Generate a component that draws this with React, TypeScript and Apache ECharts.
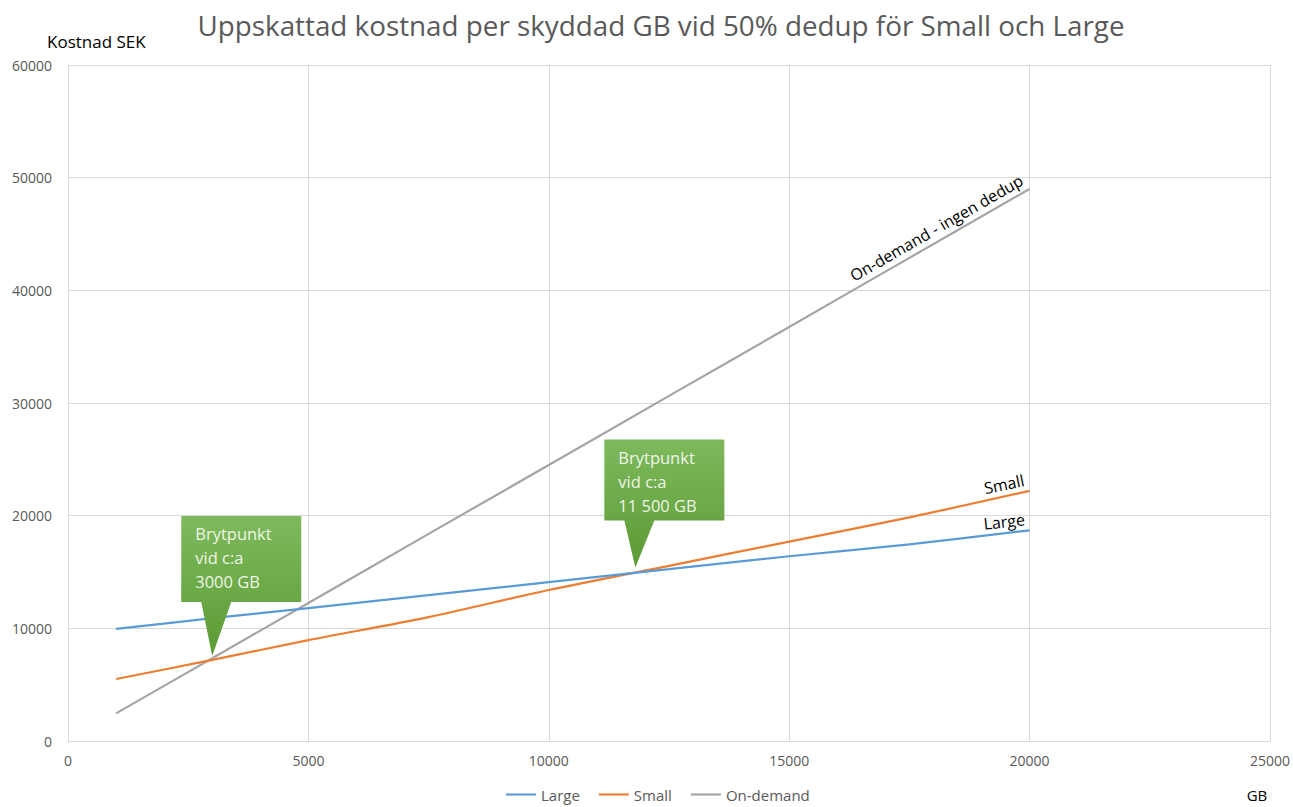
import React, { useEffect, useRef } from "react";
import * as echarts from "echarts";

const titleText = "Uppskattad kostnad per skyddad GB vid 50% dedup för Small och Large";
const yAxisTitle = "Kostnad SEK";
const xAxisTitle = "GB";
const seriesNames = ["Large", "Small", "On-demand"];
const gbValues = [1000, 3000, 5000, 7500, 10000, 12500, 15000, 17500, 20000];
const largeCost = [9950, 10900, 11800, 12950, 14100, 15250, 16400, 17450, 18700];
const smallCost = [5500, 7200, 8950, 11000, 13400, 15550, 17700, 19850, 22200];
const onDemandCost = [2450, 7350, 12250, 18380, 24500, 30630, 36750, 42880, 49000];
const lineLabels = ["Large", "Small", "On-demand - ingen dedup"];
const breakpoints = [
  { gb: 3000, cost: 7550, text: "Brytpunkt\nvid c:a\n3000 GB" },
  { gb: 11800, cost: 15400, text: "Brytpunkt\nvid c:a\n11 500 GB" },
];

const FONT = "'Open Sans', 'Noto Sans', sans-serif";
const colors = ["#5b9bd5", "#ed7d31", "#a5a5a5"];

export default function App() {
  const ref = useRef<HTMLDivElement>(null);
  useEffect(() => {
    const chart = echarts.init(ref.current!, null, { renderer: "svg" });
    const pairs = (ys: number[]) => gbValues.map((g, i) => [g, ys[i]]);
    const allSeries = [largeCost, smallCost, onDemandCost];
    chart.setOption({
      animation: false,
      color: colors,
      textStyle: { fontFamily: FONT },
      title: {
        text: titleText,
        left: 656,
        textAlign: "center",
        top: 6,
        textStyle: { fontFamily: FONT, fontSize: 27.8, fontWeight: "normal", color: "#595959" },
      },
      grid: { left: 68, right: 21, top: 65, bottom: 66, containLabel: false },
      legend: {
        bottom: 0,
        left: 501,
        itemWidth: 30,
        itemHeight: 10,
        itemGap: 19,
        icon: "path://M0,4 L28,4 L28,6 L0,6 Z",
        textStyle: { fontFamily: FONT, fontSize: 15, color: "#595959" },
        data: seriesNames,
      },
      xAxis: {
        type: "value",
        min: 0,
        max: 25000,
        interval: 5000,
        axisLine: { show: true, lineStyle: { color: "#d9d9d9" } },
        axisTick: { show: false },
        axisLabel: { color: "#595959", fontSize: 14, margin: 12, fontFamily: FONT, formatter: (v: number) => String(v) },
        splitLine: { show: true, lineStyle: { color: "#d9d9d9" } },
      },
      yAxis: {
        type: "value",
        min: 0,
        max: 60000,
        interval: 10000,
        axisLine: { show: false },
        axisTick: { show: false },
        axisLabel: { color: "#595959", fontSize: 14, margin: 16, fontFamily: FONT, formatter: (v: number) => String(v) },
        splitLine: { show: true, lineStyle: { color: "#d9d9d9" } },
      },
      series: allSeries.map((ys, i) => ({
        name: seriesNames[i],
        type: "line",
        data: pairs(ys),
        symbol: "none",
        smooth: 0.3,
        lineStyle: { width: 2.2, color: colors[i] },
        z: 3 - i,
      })),
    });

    const px = (g: number, c: number) => chart.convertToPixel({ gridIndex: 0 }, [g, c]) as number[];
    const graphics: any[] = [];
    graphics.push({
      type: "text",
      x: 47,
      y: 41,
      style: { text: yAxisTitle, font: `17px ${FONT}`, fill: "#000", verticalAlign: "middle" },
    });
    graphics.push({
      type: "text",
      x: 1257,
      y: 795,
      style: { text: xAxisTitle, font: `15px ${FONT}`, fill: "#000", align: "center", verticalAlign: "middle" },
    });

    allSeries.forEach((ys, i) => {
      const n = ys.length;
      const end = px(gbValues[n - 1], ys[n - 1]);
      const prev = px(gbValues[n - 3], ys[n - 3]);
      const ang = Math.atan2(prev[1] - end[1], end[0] - prev[0]);
      graphics.push({
        type: "text",
        x: end[0] - 4,
        y: end[1] - 3,
        rotation: ang,
        style: {
          text: lineLabels[i],
          font: `16px ${FONT}`,
          fill: "#000",
          align: "right",
          verticalAlign: "bottom",
        },
        z: 10,
      });
    });

    breakpoints.forEach((b, k) => {
      const tip = px(b.gb, b.cost);
      const bx = tip[0] - 31;
      const by = tip[1] - (k === 0 ? 140 : 128);
      const bw = 120;
      const bh = k === 0 ? 86 : 81;
      const baseY = by + bh;
      graphics.push({
        type: "polygon",
        shape: {
          points: [
            [bx, by],
            [bx + bw, by],
            [bx + bw, baseY],
            [tip[0] + 19, baseY],
            [tip[0], tip[1]],
            [tip[0] - 11, baseY],
            [bx, baseY],
          ],
        },
        style: {
          fill: {
            type: "linear",
            x: 0,
            y: 0,
            x2: 0,
            y2: 1,
            colorStops: [
              { offset: 0, color: "#7eba5d" },
              { offset: 1, color: "#5c9a34" },
            ],
          },
        },
        z: 20,
      });
      graphics.push({
        type: "text",
        x: bx + 14,
        y: by + 6,
        style: {
          text: b.text,
          font: `16.5px ${FONT}`,
          fill: "#eef5e8",
          lineHeight: 24,
          verticalAlign: "top",
        },
        z: 21,
      });
    });

    chart.setOption({ graphic: graphics });
    return () => chart.dispose();
  }, []);
  return <div ref={ref} style={{ position: "absolute", left: 0, top: 0, width: 1293, height: 807 }} />;
}
